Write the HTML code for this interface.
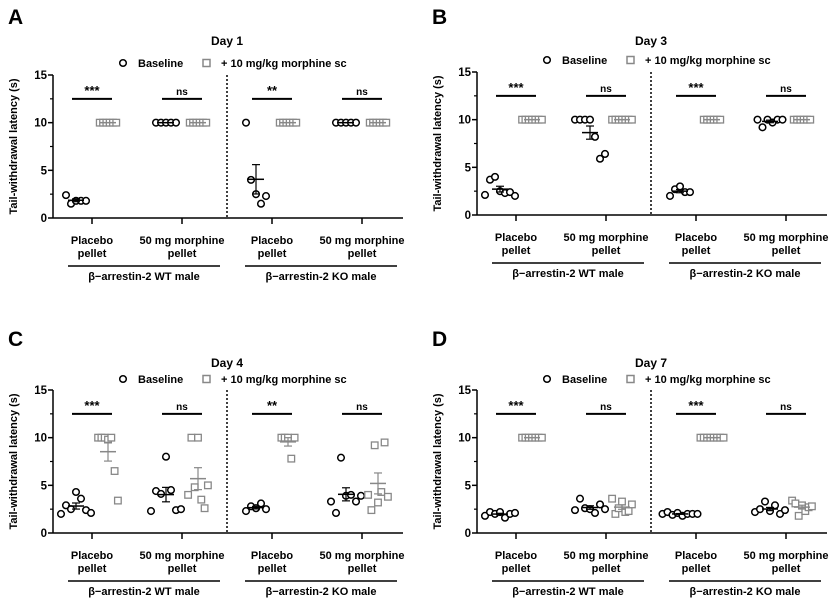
<!DOCTYPE html>
<html><head><meta charset="utf-8"><style>
body{margin:0;background:#fff}
svg{display:block;font-family:"Liberation Sans",Arial,sans-serif;font-weight:bold}
</style></head><body>
<svg id="fig" width="839" height="600" viewBox="0 0 839 600"></svg>
<script>
const days = ["Day 1","Day 3","Day 4","Day 7"];
const letters = ["A","B","C","D"];
const yTicks = [0,5,10,15];
const catLabels1 = ["Placebo","50 mg morphine","Placebo","50 mg morphine"];
const catLabels2 = ["pellet","pellet","pellet","pellet"];
const groupLabels = ["β−arrestin-2 WT male","β−arrestin-2 KO male"];
const sigA = ["***","ns","**","ns"];
const sigB = ["***","ns","***","ns"];
const sigC = ["***","ns","**","ns"];
const sigD = ["***","ns","***","ns"];
// Panel A
const aBase = [[2.4,1.5,1.8,1.8,1.8],[10,10,10,10,10],[10,4,2.5,1.5,2.3],[10,10,10,10,10]];
const aMorph = [[10,10,10,10,10,10],[10,10,10,10,10,10],[10,10,10,10,10,10],[10,10,10,10,10,10]];
// Panel B
const bBase = [[2.1,3.7,4.0,2.5,2.3,2.4,2.0],[10,10,10,10,8.2,5.9,6.4],[2.0,2.7,3.0,2.4,2.4],[10,9.2,10,9.7,10,10]];
const bMorph = [[10,10,10,10,10,10,10],[10,10,10,10,10,10,10],[10,10,10,10,10,10],[10,10,10,10,10,10]];
// Panel C
const cBase = [[2.0,2.9,2.5,4.3,3.6,2.4,2.1],[2.3,4.4,4.1,8.0,4.5,2.4,2.5],[2.3,2.8,2.6,3.1,2.5],[3.3,2.1,7.9,3.9,4.0,3.3,3.9]];
const cMorph = [[10,10,10,9.8,10,6.5,3.4],[4.0,10,4.8,10,3.5,2.6,5.0],[10,10,10,7.8,10],[4.0,2.4,9.2,3.2,4.3,9.5,3.8]];
// Panel D
const dBase = [[1.8,2.2,2.0,2.2,1.6,2.0,2.1],[2.4,3.6,2.6,2.5,2.1,3.0,2.5],[2.0,2.2,1.9,2.1,1.8,2.0,2.0,2.0],[2.2,2.5,3.3,2.3,2.9,2.0,2.4]];
const dMorph = [[10,10,10,10,10,10,10],[3.6,2.0,2.6,3.3,2.2,2.3,3.0],[10,10,10,10,10,10,10,10],[3.4,3.1,1.8,2.9,2.3,2.7,2.8]];

const panels = [
 {ox:53,oy:218,ty:40,ly:63,base:aBase,morph:aMorph,sig:sigA},
 {ox:477,oy:215,ty:40,ly:60,base:bBase,morph:bMorph,sig:sigB},
 {ox:53,oy:533,ty:362,ly:379,base:cBase,morph:cMorph,sig:sigC},
 {ox:477,oy:533,ty:362,ly:379,base:dBase,morph:dMorph,sig:sigD}
];
const NS="http://www.w3.org/2000/svg";
const svg=document.getElementById('fig');
function mk(tag,attrs,parent,txt){const e=document.createElementNS(NS,tag);for(const k in attrs)e.setAttribute(k,attrs[k]);if(txt!==undefined)e.textContent=txt;(parent||svg).appendChild(e);return e;}
function stats(a){const n=a.length,m=a.reduce((s,v)=>s+v,0)/n;const sd=Math.sqrt(a.reduce((s,v)=>s+(v-m)*(v-m),0)/(n-1));return [m,sd/Math.sqrt(n)];}
panels.forEach((p,pi)=>{
 const g=mk('g',{});
 
 
 const y=v=>p.oy-v*(143/15);
 const cx=i=>p.ox+39+i*90;
 const L=mk('text',{x:p.ox-45,y:p.ty-16,'font-size':21},g,letters[pi]);
 
 const T=mk('text',{x:p.ox+174,y:p.ty+5,'font-size':12,'text-anchor':'middle'},g,days[pi]);
 
 const lg=mk('g',{},g);
 mk('circle',{cx:p.ox+70,cy:p.ly,r:3.3,fill:'#fff',stroke:'#000','stroke-width':1.5},lg);
 mk('text',{x:p.ox+85,y:p.ly+4,'font-size':11},lg,'Baseline');
 mk('rect',{x:p.ox+150,y:p.ly-3.5,width:7,height:7,fill:'#fff',stroke:'#888','stroke-width':1.5},lg);
 mk('text',{x:p.ox+168,y:p.ly+4,'font-size':11},lg,'+ 10 mg/kg morphine sc');
 const ax=mk('g',{},g);
 mk('line',{x1:p.ox,y1:y(15),x2:p.ox,y2:p.oy,stroke:'#000','stroke-width':1.5},ax);
 yTicks.forEach(t=>{mk('line',{x1:p.ox-5,x2:p.ox,y1:y(t),y2:y(t),stroke:'#000','stroke-width':1.5},ax);
  mk('text',{x:p.ox-6,y:y(t)+4,'font-size':11.5,'text-anchor':'end'},ax,t);});
 [2.5,7.5,12.5].forEach(t=>mk('line',{x1:p.ox-3,x2:p.ox,y1:y(t),y2:y(t),stroke:'#000','stroke-width':1.2},ax));
 const yt=mk('text',{x:0,y:0,'font-size':11,'text-anchor':'middle',transform:`translate(${p.ox-36},${y(7.5)}) rotate(-90)`},g,'Tail-withdrawal latency (s)');
 
 const xa=mk('g',{},g);
 mk('line',{x1:p.ox,y1:p.oy,x2:p.ox+350,y2:p.oy,stroke:'#000','stroke-width':1.5},xa);
 mk('line',{x1:p.ox+174,y1:y(15),x2:p.ox+174,y2:p.oy,stroke:'#000','stroke-width':1.5,'stroke-dasharray':'2,2'},xa);
 for(let i=0;i<4;i++){
  mk('line',{x1:cx(i),x2:cx(i),y1:p.oy,y2:p.oy+6,stroke:'#000','stroke-width':1.5},xa);
  mk('text',{x:cx(i),y:p.oy+26,'font-size':11,'text-anchor':'middle'},xa,catLabels1[i]);
  mk('text',{x:cx(i),y:p.oy+39,'font-size':11,'text-anchor':'middle'},xa,catLabels2[i]);
 }
 [0,1].forEach(k=>{const c=p.ox+91+k*177;
  mk('line',{x1:c-76,x2:c+76,y1:p.oy+48,y2:p.oy+48,stroke:'#000','stroke-width':1.5},xa);
  mk('text',{x:c,y:p.oy+62,'font-size':11,'text-anchor':'middle'},xa,groupLabels[k]);});
 for(let i=0;i<4;i++){
  const sg=mk('g',{},g);
  mk('line',{x1:cx(i)-20,x2:cx(i)+20,y1:y(12.5),y2:y(12.5),stroke:'#000','stroke-width':2},sg);
  mk('text',{x:cx(i),y:y(12.5)-4,'font-size':p.sig[i]=='ns'?10:13,'text-anchor':'middle'},sg,p.sig[i]);
  [[p.base[i],-16,'#000',5],[p.morph[i],16,'#888',3.3]].forEach(([arr,off,col,sp],si)=>{
   const gg=mk('g',{},g);
   
   
   const c=cx(i)+off;
   const [m,se]=stats(arr);
   arr.forEach((v,j)=>{const px=c+(j-(arr.length-1)/2)*sp;
    let el;
    if(si==0) el=mk('circle',{cx:px,cy:y(v),r:3.3,fill:'#fff',stroke:col,'stroke-width':1.5},gg);
    else el=mk('rect',{x:px-3.3,y:y(v)-3.3,width:6.6,height:6.6,fill:'#fff',stroke:col,'stroke-width':1.3},gg);
    
    
   });
   mk('line',{x1:c-8,x2:c+8,y1:y(m),y2:y(m),stroke:col,'stroke-width':1.5},gg);
   if(se>0.01){
    mk('line',{x1:c,x2:c,y1:y(m+se),y2:y(m-se),stroke:col,'stroke-width':1.2},gg);
    mk('line',{x1:c-4,x2:c+4,y1:y(m+se),y2:y(m+se),stroke:col,'stroke-width':1.2},gg);
    mk('line',{x1:c-4,x2:c+4,y1:y(m-se),y2:y(m-se),stroke:col,'stroke-width':1.2},gg);
   }
  });
 }
});
</script>
</body></html>
